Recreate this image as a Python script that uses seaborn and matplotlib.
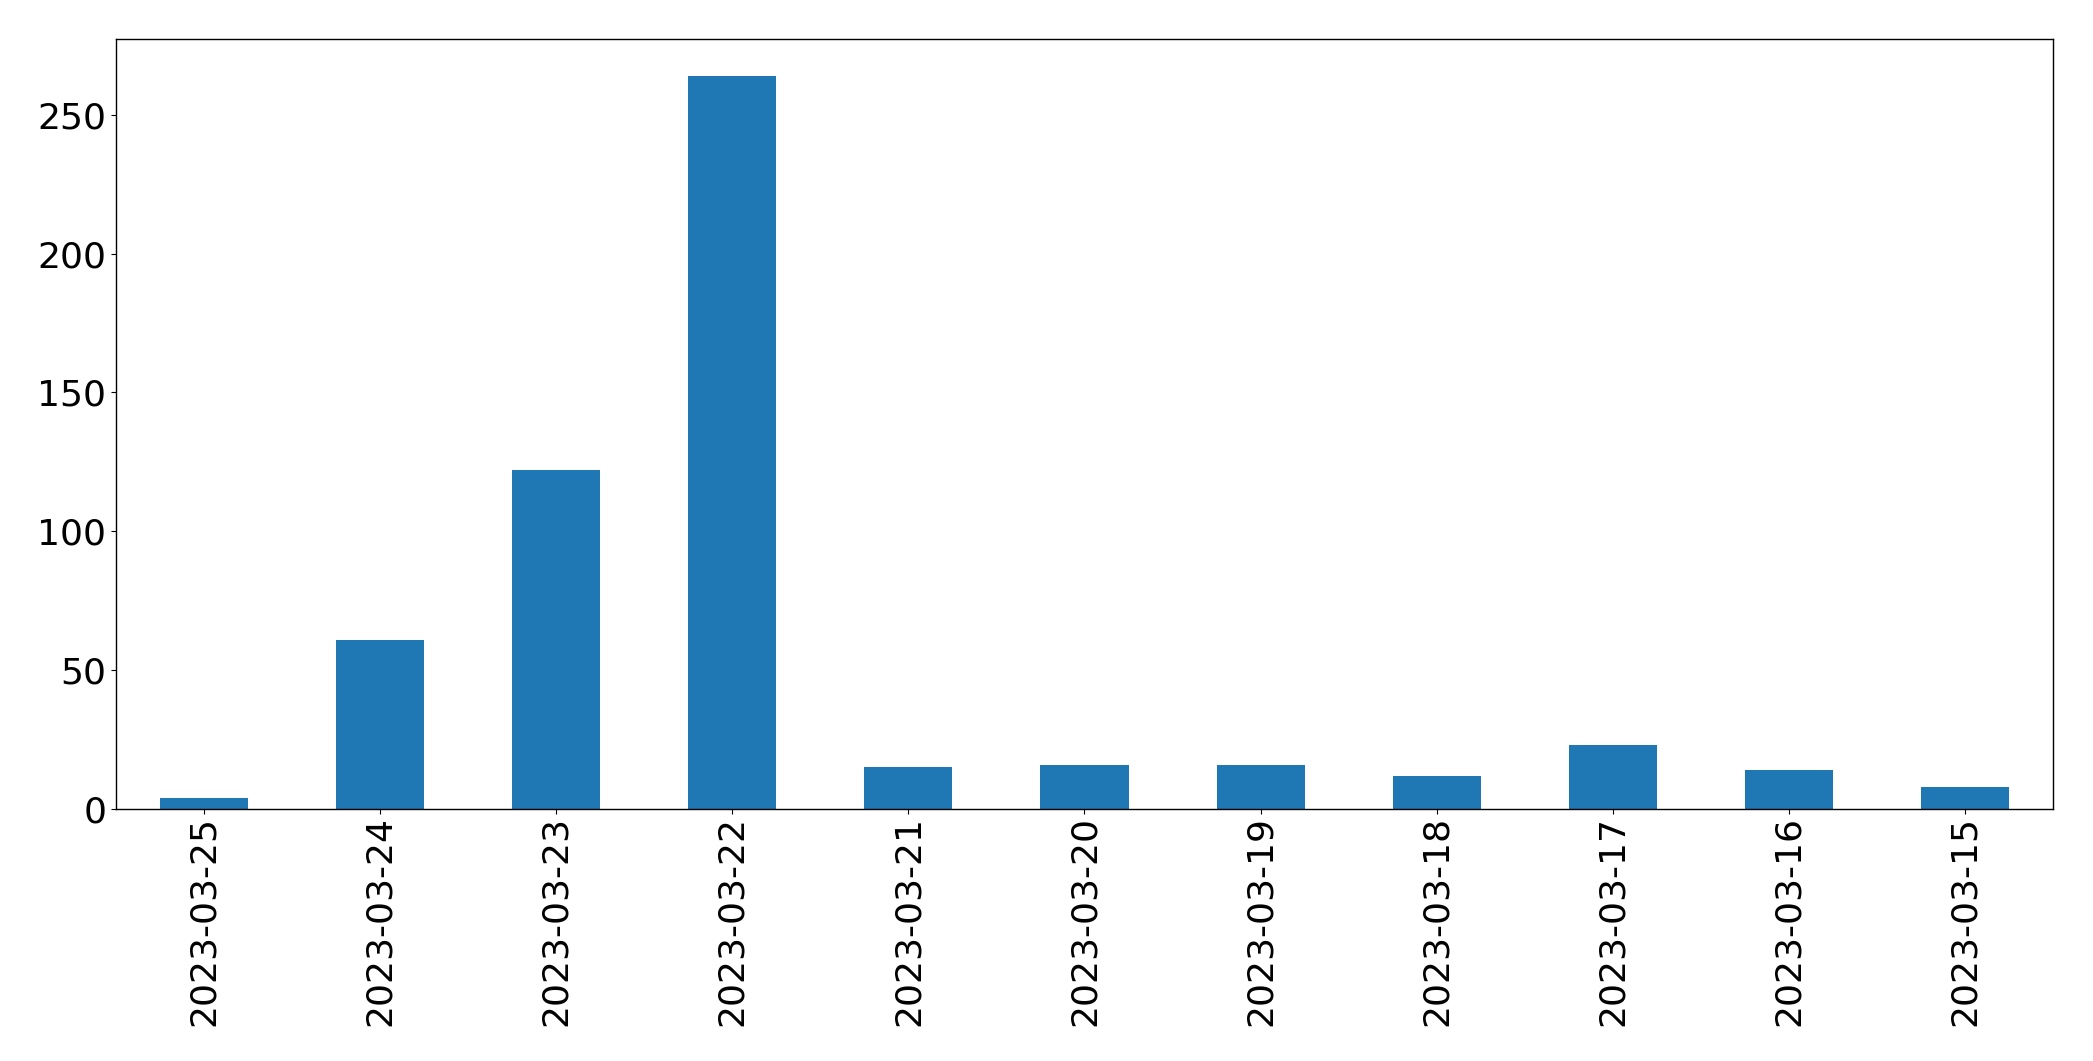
import matplotlib
matplotlib.use('Agg')
import matplotlib.pyplot as plt
import seaborn as sns
import pandas as pd

# daily counts, newest first (as in the original)
dates  = ['2023-03-25', '2023-03-24', '2023-03-23', '2023-03-22', '2023-03-21',
          '2023-03-20', '2023-03-19', '2023-03-18', '2023-03-17', '2023-03-16',
          '2023-03-15']
counts = [4, 61, 122, 264, 15, 16, 16, 12, 23, 14, 8]

df = pd.DataFrame({'date': dates, 'count': counts})

fig = plt.figure(figsize=(20.93, 10.61), dpi=100)
ax = fig.add_axes([0.0554, 0.2375, 0.9255, 0.7255])
sns.barplot(data=df, x='date', y='count', order=dates, color='#1f77b4',
            saturation=1, width=0.5, ax=ax)
ax.set_xlim(-0.5, len(dates) - 0.5)
ax.set_xlabel('')
ax.set_ylabel('')
ax.set_yticks([0, 50, 100, 150, 200, 250])
ax.tick_params(axis='x', labelrotation=90, labelsize=26, length=3.5, pad=1.5)
ax.tick_params(axis='y', labelsize=26, length=3.5)
for s in ax.spines.values():
    s.set_linewidth(1.0)

plt.savefig('out.png', dpi=100)
plt.close()
